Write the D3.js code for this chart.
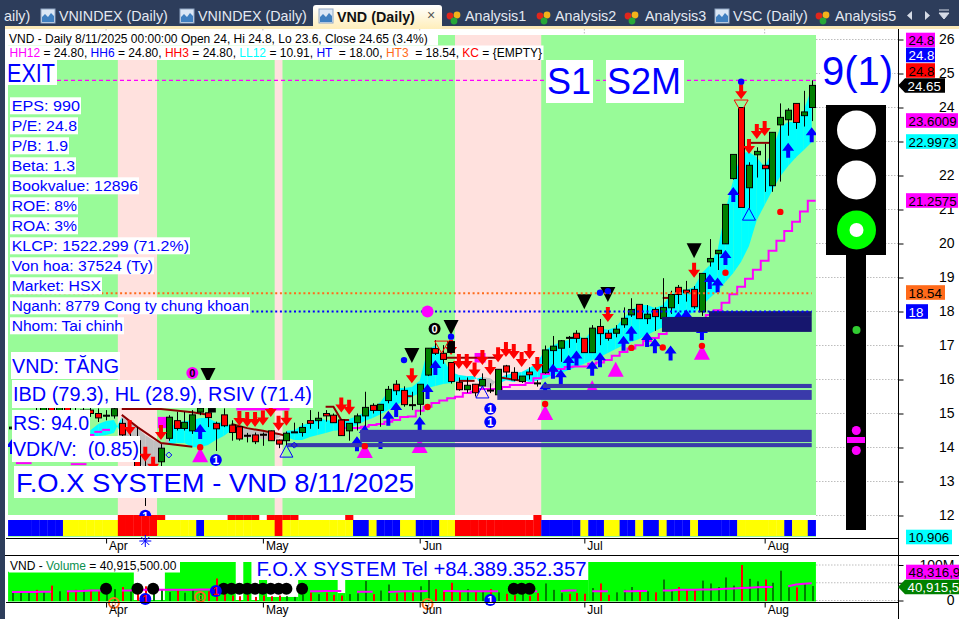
<!DOCTYPE html>
<html><head><meta charset="utf-8">
<style>html,body{margin:0;padding:0;background:#fff;overflow:hidden}svg{display:block;font-family:"Liberation Sans",Arial,sans-serif}text{white-space:pre}</style>
<script src="https://cdn.jsdelivr.net/npm/d3@7/dist/d3.min.js"></script>
</head><body><div id="c"></div>
<script>
// ---------- data ----------
const opens =[14.55,14.7,14.9,15.0,14.9,15.2,15.05,15.2,15.05,14.95,15.1,15.0,14.93,14.93,14.71,14.2,14.2,13.3,13.1,13.58,14.27,14.79,14.56,14.49,15.04,15.02,14.71,14.96,14.66,14.61,14.36,14.37,14.39,14.49,14.22,14.2,14.44,14.44,14.79,14.79,15.0,14.95,14.81,14.49,14.73,14.93,15.24,15.09,15.38,15.86,15.68,15.26,15.27,16.13,16.91,16.77,16.5,15.92,15.7,15.86,15.81,15.69,15.55,16.4,16.21,15.94,16.22,15.9,16.2,16.85,16.92,17.24,17.36,17.21,16.79,17.56,17.36,17.36,17.61,17.9,18.21,17.79,18.06,17.79,18.11,18.71,18.63,18.65,17.99,19.46,19.7,19.99,21.91,24.0,21.64,22.61,22.3,21.7,23.49,23.64,24.12,23.76,24.0];
const highs =[14.8,14.95,15.1,15.2,15.3,15.4,15.3,15.45,15.3,15.25,15.35,15.15,15.1,15.25,14.85,14.6,14.6,14.0,13.7,14.1,14.95,15.05,15.05,15.1,15.3,15.2,14.76,15.15,14.8,14.62,14.43,14.44,14.44,14.5,14.23,14.47,14.73,14.72,15.1,15.05,15.1,15.0,14.82,14.71,15.0,15.64,15.3,15.27,15.81,15.98,15.8,15.64,15.86,16.92,17.16,17.01,16.5,16.06,16.06,15.87,16.18,15.89,16.3,16.43,16.36,16.1,16.36,15.98,17.0,17.28,17.16,17.28,17.45,17.22,17.6,17.78,17.45,17.6,18.12,18.39,18.22,18.19,18.12,18.98,18.61,18.78,18.9,18.75,19.12,20.13,19.8,21.15,22.62,24.0,22.39,22.83,22.93,23.27,24.12,23.98,24.12,24.49,24.8];
const lows  =[14.3,14.5,14.7,14.8,14.8,14.9,14.9,15.0,14.85,14.8,14.9,14.75,14.8,14.85,14.2,13.9,13.3,12.28,12.9,13.4,14.2,14.5,14.5,14.4,14.95,14.6,13.9,14.6,14.2,14.2,14.15,14.1,14.05,14.19,13.98,14.05,14.43,14.32,14.55,14.55,14.76,14.73,14.34,14.2,14.5,14.5,15.0,14.61,15.3,15.54,15.2,15.1,14.95,16.1,16.72,16.46,15.88,15.67,15.61,15.5,15.77,15.6,15.55,16.06,15.95,15.9,16.0,15.79,16.17,16.28,16.52,16.93,17.08,16.79,16.78,17.01,17.14,17.24,17.52,17.84,17.78,17.63,17.43,17.79,17.93,18.22,18.29,18.08,17.87,19.32,19.22,19.99,21.88,21.06,21.03,21.94,21.52,21.52,21.82,23.17,23.37,23.44,23.6];
const closes=[14.6,14.85,15.0,14.9,15.2,15.05,15.2,15.05,14.95,15.1,15.0,14.87,14.95,15.14,14.37,14.3,13.4,13.1,13.3,13.98,14.89,14.56,14.74,14.96,15.16,14.88,14.55,14.64,14.44,14.25,14.34,14.17,14.36,14.2,14.1,14.42,14.46,14.59,14.71,14.86,14.93,14.73,14.35,14.71,14.93,15.18,15.09,15.27,15.71,15.67,15.26,15.24,15.86,16.92,16.77,16.59,15.94,15.7,15.83,15.61,16.0,15.66,16.3,16.22,15.99,16.1,16.14,15.88,16.87,16.98,17.14,17.22,17.21,16.79,17.51,17.35,17.21,17.48,17.8,18.06,17.79,17.92,17.85,18.12,18.5,18.5,18.55,18.14,19.12,19.56,19.8,21.15,22.62,21.06,22.3,22.71,22.2,23.27,23.71,23.92,23.56,23.87,24.65];
const volumes=[26,26,23,30,26,42,26,26,30,30,30,26,23,32,38,26,30,40,20,32,24,28,22,30,24,26,62,22,14,12,16,10,14,12,14,12,10,16,22,18,22,16,14,18,20,55,18,28,45,20,28,22,40,60,32,28,50,26,32,26,26,32,23,19,15,21,13,21,48,30,21,19,21,19,35,48,16,23,30,38,26,26,23,59,30,38,30,30,56,48,38,65,42,100,61,54,59,50,84,37,37,48,40.9];
const volumeMA=[24,24,24,24,25,25,null,26,26,27,28,28,28,null,28,28,30,30,30,30,30,30,30,30,31,31,31,31,31,31,31,31,31,31,31,31,null,null,26,26,27,27,27,null,25,25,25,null,24,25,26,26,26,27,null,27,27,26,26,26,26,26,26,null,null,null,25,26,null,null,27,28,28,null,26,26,26,null,26,26,27,27,null,28,28,30,30,30,31,31,32,33,34,35,36,37,38,38,null,40,45,47,48.3];
const cloudFirstBar=11;
const cloudFast=[14.51,14.69,14.78,14.81,14.37,14.07,13.57,13.40,13.40,13.63,14.57,14.72,14.78,14.81,14.87,14.87,14.75,14.72,14.63,14.31,14.28,14.28,14.25,14.22,14.28,14.49,14.51,14.66,14.72,14.87,14.81,14.78,14.81,14.84,14.93,15.04,15.16,15.34,15.66,15.75,15.75,15.78,15.96,16.87,17.01,16.57,16.22,16.13,16.1,16.1,15.81,15.75,16.04,16.13,16.19,16.22,16.34,16.51,16.87,17.01,17.1,17.16,17.37,17.16,17.46,17.51,17.46,17.54,17.81,18.04,18.19,18.19,18.1,18.19,18.49,18.63,18.63,18.72,19.13,19.37,19.81,20.99,21.87,22.66,22.69,22.54,22.25,22.75,23.43,23.57,23.57,23.93,24.57];
const cloudSlow=[14.31,14.34,14.37,14.43,14.9,14.75,14.57,14.37,14.22,14.13,14.07,14.13,14.13,14.01,14.01,14.07,14.22,14.34,14.51,14.6,14.57,14.51,14.49,14.43,14.4,14.31,14.22,14.22,14.31,14.37,14.43,14.49,14.51,14.57,14.66,14.78,14.87,14.98,15.1,15.25,15.37,15.49,15.6,15.75,15.81,15.87,15.9,15.96,15.98,16.01,16.07,16.04,15.87,15.98,15.93,16.01,15.93,15.96,16.04,16.13,16.19,16.28,16.37,16.46,16.57,16.66,16.78,16.9,17.01,17.1,17.19,17.31,17.43,17.54,17.66,17.75,17.9,17.98,18.16,18.4,18.6,18.87,19.13,19.46,19.93,20.69,21.13,21.57,21.98,22.28,22.54,22.75,22.98];
const stopFirstBar=44;
const stopLine=[14.57,14.57,14.61,14.66,14.69,14.76,14.81,14.9,14.91,15.08,15.2,15.31,15.38,15.45,15.49,15.6,15.64,15.72,15.72,15.72,15.78,15.84,15.84,15.9,16.04,16.16,16.25,16.31,16.37,16.38,16.38,16.46,16.5,16.57,16.7,16.81,16.91,17.01,17.13,17.22,17.34,17.46,17.57,17.66,17.75,17.75,17.9,18.04,18.26,18.51,18.73,18.96,19.23,19.49,19.79,20.08,20.37,20.64,20.94,21.26];
const stopBits=[[2,3,13.54],[9,10,13.51],[11,11,14.37],[12,12,14.46],[13,13,14.52]];
const resistanceLines=[[[15,15.13],[20,15.13],[24,15.04],[26,14.96]],[[15,14.96],[17,14.6],[20,14.13],[24,14.02]],[[29,14.69],[31,14.57],[33,14.49],[35,14.4],[36,14.34]],[[41,15.2],[42,15.2],[43,14.81],[44,14.81]],[[51,15.51],[52,15.51]],[[56,16.64],[63,16.64]],[[58,15.96],[60,15.96]],[[63,16.07],[66,15.96]],[[95,22.96],[98,22.96]],[[84,18.4],[85,18.4]]];
const magentaBlocks=[[19.6,21.4,14.57,14.9],[29.6,36.4,15.09,15.2],[60,61.4,16.5,16.78],[93.6,93.9,22.4,22.7]];
const zonesBlue=[[45.4,103,14.16,14.52],[36.1,103,14.01,14.13],[62.9,103,15.4,15.69],[68.7,103,15.75,15.87]];
const zonesNavy=[[83.9,103,17.4,17.84],[89.9,103,17.84,18.01]];
const pinkBands=[[15,19],[35,35],[58,68]];
const stripRuns=[["B",7],["Y",7],["R",5],["Y",5],["B",1],["Y",9],["R",1],["Y",9],["B",2],["Y",1],["B",3],["Y",2],["B",3],["Y",2],["R",11],["B",5],["Y",1],["B",2],["Y",2],["B",2],["Y",1],["B",2],["Y",1],["B",3],["Y",1],["B",5],["Y",6],["B",1],["Y",2],["B",1]];
const stripTopBars=[15,16,17,18,19,20,29,30,31,32,34,35,36,37,44,68];
const upArrows=[[1,14.25],[25,14.69],[45,14.33],[46,14.66],[48,14.4],[49,15.08],[50,15.34],[53,14.91],[54,15.87],[55,16.57],[69,15.94],[70,16.46],[71,16.3],[72,16.72],[73,16.85],[75,16.55],[76,16.8],[79,17.29],[80,17.58],[82,17.4],[83,17.21],[85,17.0],[86,17.99],[87,18.06],[89,17.6],[90,19.1],[91,19.0],[92,19.81],[93,21.66],[100,22.96],[103,23.42]];
const downArrows=[[16,14.37],[18,13.58],[19,13.29],[20,14.22],[30,14.63],[31,14.6],[32,14.6],[33,14.65],[34,14.9],[35,14.49],[36,14.64],[43,15.03],[44,14.96],[52,15.89],[57,16.72],[58,16.31],[59,16.31],[60,16.06],[61,16.43],[62,16.13],[63,16.51],[64,16.66],[65,16.6],[66,16.37],[67,16.6],[68,16.22],[77,17.69],[88,18.99],[94,24.24],[95,22.63],[96,23.07],[97,23.16]];
const blackTriangles=[[26,16.34],[52,16.93],[57,17.75],[74,18.51],[77,18.72],[88,20.01]];
const magentaTriangles=[[25,14.01],[46,14.13],[53,14.28],[69,15.25],[75,15.98],[78,16.52],[89,17.02]];
const redDots=[[25,14.01],[46,14.04],[69,15.28],[89,16.99],[99,20.93],[80,16.93],[84,16.94],[92,19.14],[54,15.19]];
const blueDots=[[94,24.76],[76,18.55],[77,18.6],[51,16.57],[57,17.26]];
const hollowBlue=[[95,21.04],[61,15.81],[36,14.07]];
const hollowRed=[[94,24.22],[55.8,17.13]];
const blackBlocks=[[56.5,57.5,16.78,17.13],[26,27,15.03,15.16]];
const blueOnes=[[62,15.14],[62,14.75],[27,13.63],[18,11.99]];
const hollowDiamonds=[[21,13.78],[37,14.07]];
const priceTicks=[12,13,14,15,16,17,18,19,20,21,22,23,24,25,26];
const volTicks=[0,50,100];
const monthNames=["Apr","May","Jun","Jul","Aug"];
const monthBars=[13,33,53,74,97];
const volumeZones=[[1,16,81],[21,29,110],[31,31,110],[33,33,58],[34,37,10],[38,42,58],[43,43,21],[44,74,58],[75,103,110]];
const volDots=[13,17,19,28,29,30,31,32,33,34,35,36,38,65,66,67];
const volDotLevel=33;
const infoLines=["EPS: 990","P/E: 24.8","P/B: 1.9","Beta: 1.3","Bookvalue: 12896","ROE: 8%","ROA: 3%","KLCP: 1522.299 (71.2%)","Von hoa: 37524 (Ty)","Market: HSX","Nganh: 8779 Cong ty chung khoan","Nhom: Tai chinh"];
const tabNames=["aily)","VNINDEX (Daily)","VNINDEX (Daily)","Analysis1","Analysis2","Analysis3","VSC (Daily)","Analysis5"];
const header1="VND - Daily 8/11/2025 00:00:00 Open 24, Hi 24.8, Lo 23.6, Close 24.65 (3.4%)";
const header2=[["HH12","#ff00ff"],[" = 24.80, ","#000"],["HH6","#0000ff"],[" = 24.80, ","#000"],["HH3","#ff0000"],[" = 24.80, ","#000"],["LL12","#00ffff"],[" = 10.91, ","#000"],["HT","#0000ff"],["  = 18.00, ","#000"],["HT3","#ff6a1a"],["  = 18.54, ","#000"],["KC","#ff0000"],[" = {EMPTY}","#000"]];
const hhValue=24.8, htValue=18, ht3Value=18.54;

// ---------- scales ----------
const W=959,H=619;
const svg=d3.select("#c").append("svg").attr("width",W).attr("height",H);
const bars=d3.range(1,104);
const stripCodes=stripRuns.map(r=>r[0].repeat(r[1])).join("");
const x=d3.scaleLinear().domain([1,103]).range([12,811.7]);
const y=d3.scaleLinear().domain([26,12]).range([39.5,515.5]);
const vy=d3.scaleLinear().domain([0,100]).range([600.5,565]);
const hw=(x(2)-x(1))/2;
const GREEN="#98fb98",PINK="#ffe1de";

const defs=svg.append("defs");
defs.append("clipPath").attr("id","plot").append("rect").attr("x",8).attr("y",30).attr("width",808).attr("height",486);

// ---------- chrome ----------
svg.append("rect").attr("width",W).attr("height",26).attr("fill","#2d3d5b");
svg.append("rect").attr("y",26).attr("width",W).attr("height",3).attr("fill","#fbe9b7");
svg.append("rect").attr("width",5).attr("height",H).attr("fill","#2d3d5b");
const tabX=[4,59,198,465,555,645,733,835];
const iconX=[null,41,180,448,538,626,715,817];
tabNames.forEach((t,i)=>{
  svg.append("text").attr("x",tabX[i]).attr("y",21).attr("font-size",14.3).attr("fill","#e4e9f2").text(t);
  if(iconX[i]==null)return;
  const ix=iconX[i];
  if(t.startsWith("Analysis")){
    [["#e0261c",2,6],["#f3b21a",9,5],["#28a838",6,11]].forEach(c=>svg.append("circle").attr("cx",ix+c[1]).attr("cy",10+c[2]).attr("r",3.4).attr("fill",c[0]));
  }else{
    svg.append("rect").attr("x",ix).attr("y",9).attr("width",14).attr("height",14).attr("fill","#dbe7f5").attr("stroke","#8fa6c4");
    svg.append("path").attr("d",`M${ix+1},22 L${ix+1},17 L${ix+4},14 L${ix+7},17 L${ix+10},13 L${ix+13},16 L${ix+13},22Z`).attr("fill","#3f7fc0");
  }
});
const ag=svg.append("linearGradient").attr("id","tabg").attr("x1",0).attr("x2",0).attr("y1",0).attr("y2",1);
ag.append("stop").attr("offset",0).attr("stop-color","#ffffff");ag.append("stop").attr("offset",1).attr("stop-color","#ffeeba");
svg.append("path").attr("d","M313,29 L313,8 Q313,5 316,5 L439,5 Q442,5 442,8 L442,29Z").attr("fill","url(#tabg)");
svg.append("rect").attr("x",319).attr("y",9).attr("width",14).attr("height",14).attr("fill","#dbe7f5").attr("stroke","#8fa6c4");
svg.append("path").attr("d","M320,22 L320,17 L323,14 L326,17 L329,13 L332,16 L332,22Z").attr("fill","#3f7fc0");
svg.append("text").attr("x",337).attr("y",22).attr("font-size",14.3).attr("font-weight","bold").attr("fill","#111").text("VND (Daily)");
svg.append("text").attr("x",427).attr("y",20).attr("font-size",14).attr("fill","#555").text("×");
svg.append("path").attr("d","M912,11 l-5,4.5 l5,4.5Z M925,11 l5,4.5 l-5,4.5Z").attr("fill","#d5dbe6");
svg.append("path").attr("d","M939,10 h10 M939,13 h10 l-5,6Z").attr("fill","#d5dbe6").attr("stroke","#d5dbe6");

// ---------- panes background ----------
const main=svg.append("g");
main.append("rect").attr("x",8).attr("y",35).attr("width",808).attr("height",480).attr("fill",GREEN);
main.selectAll(".pink").data(pinkBands).join("rect").attr("x",d=>x(d[0])-hw).attr("width",d=>x(d[1])-x(d[0])+2*hw).attr("y",35).attr("height",480).attr("fill",PINK);
main.append("rect").attr("x",8).attr("y",536).attr("width",808).attr("height",1).attr("fill",GREEN);
// strip
const stripColor={B:"#0000ff",Y:"#ffff00",R:"#ff0000"};
main.selectAll(".strip").data(bars).join("rect").attr("x",d=>x(d)-hw).attr("width",2*hw+.3).attr("y",520).attr("height",16).attr("fill",d=>stripColor[stripCodes[d-1]]);
main.selectAll(".stripTop").data(stripTopBars).join("rect").attr("x",d=>x(d)-hw).attr("width",2*hw+.3).attr("y",515).attr("height",5).attr("fill","#ff0000");

// grid
const grid=svg.append("g").attr("stroke","#bdbdbd").attr("stroke-dasharray","1.5 1.5");
grid.selectAll(".g").data(priceTicks).join("line").attr("x1",816).attr("x2",898).attr("y1",d=>y(d)).attr("y2",d=>y(d));
grid.selectAll(".v").data(volTicks).join("line").attr("x1",816).attr("x2",898).attr("y1",d=>vy(d)).attr("y2",d=>vy(d));
grid.selectAll(".mt").data(monthBars).join("line").attr("x1",d=>x(d)).attr("x2",d=>x(d)).attr("y1",29).attr("y2",35);

// ---------- plot ----------
const p=svg.append("g").attr("clip-path","url(#plot)");
// cloud
d3.range(cloudFast.length-1).forEach(i=>{
  const b=cloudFirstBar+i;
  const pts=[[x(b),y(cloudFast[i])],[x(b+1),y(cloudFast[i+1])],[x(b+1),y(cloudSlow[i+1])],[x(b),y(cloudSlow[i])]];
  p.append("path").attr("d",d3.line()(pts)+"Z").attr("fill",cloudFast[i]>=cloudSlow[i]?"#00ffff":"#c0c0c0");
});
p.selectAll(".mb").data(magentaBlocks).join("rect").attr("x",d=>x(d[0])).attr("width",d=>x(d[1])-x(d[0])).attr("y",d=>y(d[3])).attr("height",d=>y(d[2])-y(d[3])).attr("fill","#ff00ff");
// stop line (stepped)
const stepLine=d3.line().curve(d3.curveStepAfter).x(d=>x(d[0])).y(d=>y(d[1]));
const stopPts=stopLine.map((v,i)=>[stopFirstBar+i-.5,v]);stopPts.push([103.5,stopLine[stopLine.length-1]]);
p.append("path").attr("d",stepLine(stopPts)).attr("fill","none").attr("stroke","#ff00ff").attr("stroke-width",2);
p.selectAll(".sb").data(stopBits).join("line").attr("x1",d=>x(d[0])-hw).attr("x2",d=>x(d[1])+hw).attr("y1",d=>y(d[2])).attr("y2",d=>y(d[2])).attr("stroke","#ff00ff").attr("stroke-width",2);
// resistance
const plain=d3.line().x(d=>x(d[0])).y(d=>y(d[1]));
p.selectAll(".res").data(resistanceLines).join("path").attr("d",plain).attr("fill","none").attr("stroke","#8b0000").attr("stroke-width",2);
// magenta triangles (under zones)
const tri=(cx,top,w,h)=>`M${cx},${top} L${cx+w/2},${top+h} L${cx-w/2},${top+h}Z`;
p.selectAll(".mtri").data(magentaTriangles).join("path").attr("d",d=>tri(x(d[0]),y(d[1]),16,15)).attr("fill","#ff00ff");
// candles
const cg=p.append("g");
bars.forEach(b=>{
  const i=b-1,o=opens[i],c=closes[i],up=c>=o;
  cg.append("line").attr("x1",Math.round(x(b))+.5).attr("x2",Math.round(x(b))+.5).attr("y1",y(highs[i])).attr("y2",y(lows[i])).attr("stroke","#000");
  const top=Math.min(y(o),y(c)),ht=Math.abs(y(o)-y(c));
  cg.append("rect").attr("x",Math.round(x(b))-2.5).attr("y",top).attr("width",6).attr("height",Math.max(ht,1)).attr("fill",up?"#008000":"#ff0000").attr("stroke","#000");
});
// arrows
const up=(cx,t)=>`M${cx},${t} L${cx+6},${t+8} L${cx+2},${t+8} L${cx+2},${t+15} L${cx-2},${t+15} L${cx-2},${t+8} L${cx-6},${t+8}Z`;
const dn=(cx,t)=>`M${cx},${t} L${cx+6},${t-8} L${cx+2},${t-8} L${cx+2},${t-15} L${cx-2},${t-15} L${cx-2},${t-8} L${cx-6},${t-8}Z`;
p.selectAll(".ua").data(upArrows).join("path").attr("d",d=>up(x(d[0]),y(d[1]))).attr("fill","#0000ff");
p.selectAll(".da").data(downArrows).join("path").attr("d",d=>dn(x(d[0]),y(d[1]))).attr("fill","#ff0000");
p.selectAll(".bt").data(blackTriangles).join("path").attr("d",d=>{const c=x(d[0]),t=y(d[1]);return `M${c-7.5},${t} L${c+7.5},${t} L${c},${t+15}Z`}).attr("fill","#000");
// zones
p.selectAll(".zb").data(zonesBlue).join("rect").attr("x",d=>x(d[0])).attr("width",d=>x(d[1])-x(d[0])).attr("y",d=>y(d[3])).attr("height",d=>y(d[2])-y(d[3])).attr("fill","#3a3aaa");
p.selectAll(".zn").data(zonesNavy).join("rect").attr("x",d=>x(d[0])).attr("width",d=>x(d[1])-x(d[0])).attr("y",d=>y(d[3])).attr("height",d=>y(d[2])-y(d[3])).attr("fill","#16166e");
// level lines
p.append("line").attr("x1",57).attr("x2",816).attr("y1",y(hhValue)).attr("y2",y(hhValue)).attr("stroke","#ff00ff").attr("stroke-width",1.2).attr("stroke-dasharray","4 3");
p.append("line").attr("x1",x(1)).attr("x2",x(103)).attr("y1",y(htValue)).attr("y2",y(htValue)).attr("stroke","#0000ff").attr("stroke-width",2).attr("stroke-dasharray","2 2.7");
p.append("line").attr("x1",x(1)).attr("x2",x(103)).attr("y1",y(ht3Value)).attr("y2",y(ht3Value)).attr("stroke","#ff6a1a").attr("stroke-width",2).attr("stroke-dasharray","2 2.7");
// dots & blocks
p.selectAll(".bb").data(blackBlocks).join("rect").attr("x",d=>x(d[0])).attr("width",d=>x(d[1])-x(d[0])).attr("y",d=>y(d[3])).attr("height",d=>y(d[2])-y(d[3])).attr("fill","#000");
p.selectAll(".rd").data(redDots).join("circle").attr("cx",d=>x(d[0])).attr("cy",d=>y(d[1])).attr("r",3.2).attr("fill","#ff0000");
p.selectAll(".bd").data(blueDots).join("circle").attr("cx",d=>x(d[0])).attr("cy",d=>y(d[1])).attr("r",3.2).attr("fill","#0000ff");
p.selectAll(".hb").data(hollowBlue).join("path").attr("d",d=>tri(x(d[0]),y(d[1]),13,12)).attr("fill","none").attr("stroke","#0000ff").attr("stroke-width",1);
p.selectAll(".hr").data(hollowRed).join("path").attr("d",d=>{const c=x(d[0]),t=y(d[1]);return `M${c-7},${t} L${c+7},${t} L${c},${t+12}Z`}).attr("fill","none").attr("stroke","#ff0000").attr("stroke-width",1);
p.selectAll(".hd").data(hollowDiamonds).join("path").attr("d",d=>{const c=x(d[0]),t=y(d[1]);return `M${c},${t-3} L${c+3},${t} L${c},${t+3} L${c-3},${t}Z`}).attr("fill","none").attr("stroke","#0000ff");
const badge=(cx,cy,fill,fg,t,g)=>{
  (g||p).append("circle").attr("cx",cx).attr("cy",cy).attr("r",6).attr("fill",fill);
  (g||p).append("text").attr("x",cx).attr("y",cy+4).attr("text-anchor","middle").attr("font-size",11).attr("font-weight","bold").attr("fill",fg).text(t);
};
blueOnes.forEach(d=>badge(x(d[0]),y(d[1]),"#0000ff","#fff","1"));
badge(x(54.9),y(17.49),"#000","#fff","0");
badge(x(24),y(16.19),"#ff00ff","#000","0");
p.append("circle").attr("cx",x(54)).attr("cy",y(htValue)).attr("r",6).attr("fill","#ff00ff");

// ---------- volume pane ----------
const vg=svg.append("g");
vg.selectAll(".vz").data(volumeZones).join("rect").attr("x",d=>x(d[0])-hw).attr("width",d=>x(d[1])-x(d[0])+2*hw+.3).attr("y",d=>Math.max(562,vy(d[2]))).attr("height",d=>601-Math.max(562,vy(d[2]))).attr("fill","#00ff00");
vg.append("rect").attr("x",8).attr("y",600).attr("width",808).attr("height",1.5).attr("fill","#00ff00");
vg.selectAll(".vb").data(bars).join("rect").attr("x",d=>Math.round(x(d))).attr("width",2).attr("y",d=>vy(volumes[d-1])).attr("height",d=>601-vy(volumes[d-1])).attr("fill",d=>closes[d-1]>=opens[d-1]?"#008000":"#ff0000");
const maLine=d3.line().defined(d=>volumeMA[d-1]!=null).x(d=>x(d)).y(d=>vy(volumeMA[d-1]));
vg.append("path").attr("d",maLine(bars)).attr("fill","none").attr("stroke","#ff00ff").attr("stroke-width",2);
vg.selectAll(".vd").data(volDots).join("circle").attr("cx",d=>x(d)).attr("cy",vy(volDotLevel)).attr("r",6).attr("fill","#000");
badge(x(18),599,"#0000ff","#f00","1",vg);badge(x(27),591,"#0000ff","#f00","1",vg);badge(x(62),600,"#0000ff","#fff","1",vg);
[[14,603],[25,597],[54,604]].forEach(d=>{vg.append("circle").attr("cx",x(d[0])).attr("cy",d[1]).attr("r",5).attr("fill","none").attr("stroke","#ff6a1a").attr("stroke-width",2);vg.append("text").attr("x",x(d[0])).attr("y",d[1]+3).attr("text-anchor","middle").attr("font-size",8).attr("fill","#ff6a1a").text("0");});

// ---------- axes lines ----------
const lines=svg.append("g").attr("stroke","#000");
lines.append("line").attr("x1",6).attr("x2",898).attr("y1",538.5).attr("y2",538.5);
lines.append("line").attr("x1",5).attr("x2",W).attr("y1",555.5).attr("y2",555.5);
lines.append("line").attr("x1",6).attr("x2",898).attr("y1",602.5).attr("y2",602.5);

const ax=d3.axisRight(y).tickValues(priceTicks).tickSize(5).tickFormat(d3.format("d"));
const ag1=svg.append("g").attr("transform","translate(898.5,0)").call(ax);
ag1.select(".domain").remove();
ag1.selectAll("text").attr("x",56).attr("text-anchor","end").attr("font-size",14).attr("font-family","Liberation Sans").attr("fill","#000");
const vax=d3.axisRight(vy).tickValues(volTicks).tickSize(5).tickFormat(d=>d===0?"0":d===100?"100M":"");
const ag2=svg.append("g").attr("transform","translate(898.5,0)").call(vax);
ag2.select(".domain").remove();
ag2.selectAll("text").attr("x",56).attr("text-anchor","end").attr("font-size",14).attr("font-family","Liberation Sans").attr("fill","#000");
svg.append("line").attr("x1",898.5).attr("x2",898.5).attr("y1",29).attr("y2",H).attr("stroke","#000").attr("stroke-width",1);

const mxAxis=d3.axisBottom(x).tickValues(monthBars).tickSize(5).tickFormat((d,i)=>monthNames[i]);
[538.5,602.5].forEach(t=>{
  const g=svg.append("g").attr("transform",`translate(0,${t})`).call(mxAxis);
  g.select(".domain").remove();
  g.selectAll("text").attr("text-anchor","start").attr("dx",2.5).attr("y",3).attr("dy","0.71em").attr("font-size",12).attr("font-family","Liberation Sans").attr("fill","#000");
});
// snowflake mark
const sf=svg.append("g").attr("transform",`translate(${x(18)},541)`).attr("stroke","#0000ff").attr("stroke-width",1);
[[-6,0,6,0],[0,-6,0,6],[-4,-4,4,4],[-4,4,4,-4]].forEach(l=>sf.append("line").attr("x1",l[0]).attr("y1",l[1]).attr("x2",l[2]).attr("y2",l[3]));

// ---------- labels ----------
const lab=svg.append("g");
function box(t,x0,y0,w,h,fs,color,opts={}){
  lab.append("rect").attr("x",x0).attr("y",y0).attr("width",w).attr("height",h).attr("fill",opts.bg||"#fff");
  const pad=opts.pad==null?1:opts.pad;
  const tx=lab.append("text").attr("x",x0+pad).attr("y",y0+h/2+fs*.36).attr("font-size",fs).attr("fill",color).text(t);
  if(opts.fit)tx.attr("textLength",opts.fit).attr("lengthAdjust","spacingAndGlyphs");
}
box(header1,8,31,430,14.5,12,"#000");
lab.append("rect").attr("x",8).attr("y",45.5).attr("width",535.5).attr("height",14.5).attr("fill","#fff");
const h2=lab.append("text").attr("x",9.5).attr("y",57).attr("font-size",12);
header2.forEach(s=>h2.append("tspan").attr("fill",s[1]).text(s[0]));
box("EXIT",7,60,50,25,25,"#0000ff",{pad:0,fit:48});
box("S1",546,60,47,43,36,"#0000ff",{pad:1});
box("S2M",606,60,78,43,36,"#0000ff",{pad:1});
box("9(1)",820,50,72,42,40,"#0000ff",{pad:2});
const infoRight=[81,78,69,76,139,78,78,190,154,102,250,124];
infoLines.forEach((t,i)=>box(t,10,97.3+i*20,infoRight[i]-10,17,15.3,"#0000ff",{pad:1.7,fit:infoRight[i]-12.7}));
box("VND: TĂNG",11,352,109,27,20,"#0000ff",{fit:107});
box("IBD (79.3), HL (28.9), RSIV (71.4)",12,380,301,28,20,"#0000ff",{fit:299});
box("RS: 94.0",12,410,78,26,20,"#0000ff",{fit:76});
box("VDK/V:  (0.85)",12,436,128,26,20,"#0000ff",{fit:126});
box("F.O.X SYSTEM - VND 8/11/2025",14,466,401,32,26.4,"#0000ff",{pad:2,fit:398});
lab.append("rect").attr("x",9).attr("y",559).attr("width",171).attr("height",13.5).attr("fill","#fff");
const vt=lab.append("text").attr("x",10).attr("y",570).attr("font-size",12);
vt.append("tspan").attr("fill","#000").text("VND - ");vt.append("tspan").attr("fill","#0a8f4f").text("Volume");vt.append("tspan").attr("fill","#000").text(" = 40,915,500.00");
box("F.O.X SYSTEM Tel +84.389.352.357",255,558,333,22,20,"#0000ff",{pad:1.5,fit:330});

// ---------- traffic light ----------
const tl=svg.append("g");
tl.append("rect").attr("x",826).attr("y",105).attr("width",60).attr("height",150).attr("fill","#000");
tl.append("rect").attr("x",846).attr("y",255).attr("width",20).attr("height",275).attr("fill","#000");
tl.append("circle").attr("cx",856.5).attr("cy",130).attr("r",19.5).attr("fill","#fff");
tl.append("circle").attr("cx",856.5).attr("cy",180).attr("r",19.5).attr("fill","#fff");
tl.append("circle").attr("cx",856.5).attr("cy",230).attr("r",19.5).attr("fill","#00ff00");
tl.append("circle").attr("cx",856.5).attr("cy",230).attr("r",7).attr("fill","#fff");
tl.append("circle").attr("cx",856.5).attr("cy",330).attr("r",4).attr("fill","#32cd32");
tl.append("circle").attr("cx",856.3).attr("cy",430.5).attr("r",4.5).attr("fill","#ff00ff");
tl.append("circle").attr("cx",856.3).attr("cy",450.5).attr("r",4.5).attr("fill","#ff00ff");
tl.append("rect").attr("x",847).attr("y",437).attr("width",18).attr("height",6).attr("fill","#ff00ff");

// ---------- value tags ----------
function tag(t,x0,yc,w,bg,fg,arrow){
  const h=14.6;
  if(arrow)svg.append("path").attr("d",`M${x0-7},${yc} L${x0},${yc-h/2} L${x0+w},${yc-h/2} L${x0+w},${yc+h/2} L${x0},${yc+h/2}Z`).attr("fill",bg);
  else svg.append("rect").attr("x",x0).attr("y",yc-h/2).attr("width",w).attr("height",h).attr("fill",bg);
  svg.append("text").attr("x",x0+2.5).attr("y",yc+5).attr("font-size",13.3).attr("fill",fg).text(t);
}
tag("24.8",906,40,29,"#ff00ff","#000");
tag("24.8",906,55,29,"#0000ff","#fff");
tag("24.8",906,70.5,29,"#ff0000","#000");
tag("24.65",905,85.5,40,"#000","#fff",true);
tag("23.6009",906,120.5,52,"#ff00ff","#000");
tag("22.9973",906,141.5,52,"#00ffff","#000");
tag("21.2575",906,200.5,52,"#ff00ff","#000");
tag("18.54",906,292.5,39,"#ff6a1a","#000");
tag("18",906,311.5,22,"#0000ff","#fff");
tag("10.906",906,537,46,"#00ffff","#000");
tag("48,316,99",906,572,53,"#ff00ff","#000");
tag("40,915,50",905,587,54,"#008000","#fff",true);
</script></body></html>
